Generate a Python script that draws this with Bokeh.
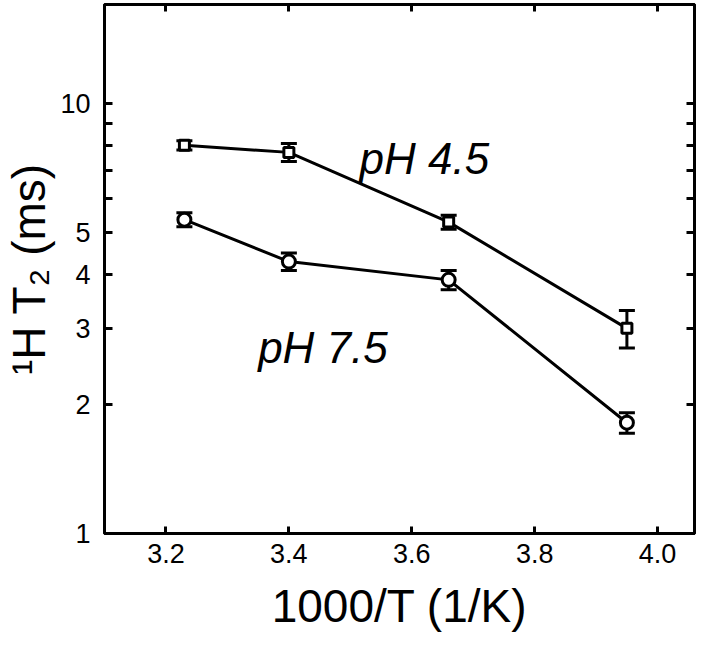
from bokeh.plotting import figure
from bokeh.models import (ColumnDataSource, Whisker, TeeHead, LinearAxis, LogAxis,
                          FixedTicker, PrintfTickFormatter)
from bokeh.core.properties import value
from bokeh.embed import file_html
from bokeh.resources import INLINE

# ---- data ----
inv_T = [3.23, 3.40, 3.66, 3.95]
t2_ph45 = [8.0, 7.7, 5.3, 3.0]
err_ph45 = [0.2, 0.37, 0.2, 0.3]
t2_ph75 = [5.37, 4.29, 3.89, 1.81]
err_ph75 = [0.2, 0.2, 0.2, 0.1]

x_ticks = [3.2, 3.4, 3.6, 3.8, 4.0]
y_ticks = [1, 2, 3, 4, 5, 10]
y_minor = [6, 7, 8, 9]

label_x = [3.515, 3.35]
label_y = [7.47, 2.71]
label_text = ["pH 4.5", "pH 7.5"]

FONT = "Liberation Sans"

src45 = ColumnDataSource(dict(x=inv_T, y=t2_ph45,
                              lo=[v - e for v, e in zip(t2_ph45, err_ph45)],
                              hi=[v + e for v, e in zip(t2_ph45, err_ph45)]))
src75 = ColumnDataSource(dict(x=inv_T, y=t2_ph75,
                              lo=[v - e for v, e in zip(t2_ph75, err_ph75)],
                              hi=[v + e for v, e in zip(t2_ph75, err_ph75)]))

p = figure(x_range=(3.1, 4.06), y_range=(1, 17), y_axis_type="log",
           frame_width=590, frame_height=529,
           min_border_left=102, min_border_top=4, min_border_right=8, min_border_bottom=112,
           output_backend="svg", toolbar_location=None)
p.background_fill_color = "white"
p.border_fill_color = "white"
p.grid.visible = False
p.outline_line_color = "black"
p.outline_line_width = 3

# bottom axis
xa = p.xaxis[0]
xa.ticker = FixedTicker(ticks=x_ticks)
xa.formatter = PrintfTickFormatter(format="%.1f")
xa.axis_label = "1000/T (1/K)"
# left axis
ya = p.yaxis[0]
ya.ticker = FixedTicker(ticks=y_ticks, minor_ticks=y_minor)
ya.formatter = PrintfTickFormatter(format="%d")
ya.axis_label = "\u00b9H T\u2082 (ms)"

for ax in (xa, ya):
    ax.axis_line_width = 3
    ax.axis_line_color = "black"
    ax.major_tick_line_width = 3
    ax.minor_tick_line_width = 3
    ax.major_tick_in = 8
    ax.major_tick_out = 0
    ax.minor_tick_in = 8
    ax.minor_tick_out = 0
    ax.major_label_text_font = FONT
    ax.major_label_text_font_size = "27px"
    ax.major_label_text_color = "black"
    ax.axis_label_text_font = FONT
    ax.axis_label_text_font_size = "46px"
    ax.axis_label_text_font_style = "normal"
    ax.axis_label_text_color = "black"
xa.major_tick_in = 7
xa.major_label_standoff = 10
xa.axis_label_standoff = 14
ya.major_label_standoff = 14
ya.axis_label_standoff = 2

# mirrored axes (tick marks only, drawn as unlabeled minor ticks)
top = LinearAxis(ticker=FixedTicker(ticks=[], minor_ticks=x_ticks),
                 minor_tick_in=7, minor_tick_out=0, major_tick_out=0,
                 major_label_standoff=0, axis_line_width=3, minor_tick_line_width=3)
right = LogAxis(ticker=FixedTicker(ticks=[], minor_ticks=y_ticks + y_minor),
                minor_tick_in=8, minor_tick_out=0, major_tick_out=0,
                major_label_standoff=0, axis_line_width=3, minor_tick_line_width=3)
p.add_layout(top, "above")
p.add_layout(right, "right")

# lines
p.line("x", "y", source=src45, line_color="black", line_width=3)
p.line("x", "y", source=src75, line_color="black", line_width=3)

# error bars
for s in (src45, src75):
    w = Whisker(base="x", lower="lo", upper="hi", source=s, line_width=3, line_color="black",
                upper_head=TeeHead(size=16, line_width=3, line_color="black"),
                lower_head=TeeHead(size=16, line_width=3, line_color="black"))
    p.add_layout(w)

# markers
p.scatter("x", "y", source=src45, marker="square", size=10, fill_color="white",
          line_color="black", line_width=3)
p.scatter("x", "y", source=src75, marker="circle", size=13, fill_color="white",
          line_color="black", line_width=3)

# annotations
p.text(x=label_x, y=label_y, text=label_text, text_font=value(FONT),
       text_font_style="italic", text_font_size="44px", text_color="black",
       text_align="left", text_baseline="alphabetic")

open("out.html", "w").write(file_html(p, INLINE))
